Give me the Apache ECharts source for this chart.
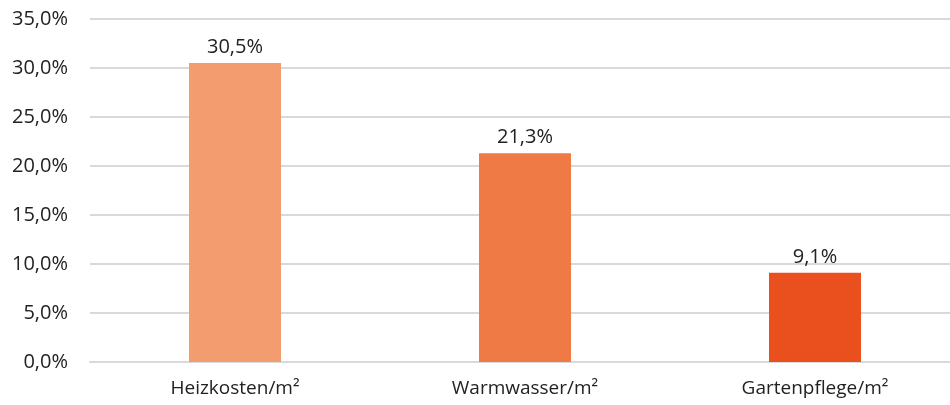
<!DOCTYPE html>
<html><head><meta charset="utf-8">
<script src="https://cdn.jsdelivr.net/npm/echarts@6/dist/echarts.min.js"></script>
<style>html,body{margin:0;padding:0;background:#fff;overflow:hidden}#c{width:960px;height:405px}</style>
</head><body><div id="c"></div>
<script>
const categories = ['Heizkosten/m²', 'Warmwasser/m²', 'Gartenpflege/m²'];
const values = [30.5, 21.3, 9.1];
const barColors = ['#F39C6F', '#F07A45', '#EA501E'];
const yTicks = [0, 5, 10, 15, 20, 25, 30, 35];
const fmt = v => v.toFixed(1).replace('.', ',') + '%';
const chart = echarts.init(document.getElementById('c'));
chart.setOption({
  animation: false,
  grid: { left: 90, right: 0, top: 19, bottom: 43 },
  xAxis: {
    type: 'category', data: categories,
    axisLine: { show: true, lineStyle: { color: '#d9d9d9', width: 2 } },
    axisTick: { show: false },
    axisLabel: { color: '#222', fontSize: 19, fontFamily: 'Open Sans', margin: 17 }
  },
  yAxis: {
    type: 'value', min: yTicks[0], max: yTicks[yTicks.length - 1], interval: 5,
    axisLine: { show: false }, axisTick: { show: false },
    splitLine: { lineStyle: { color: '#d9d9d9', width: 2 } },
    axisLabel: { color: '#222', fontSize: 20, fontFamily: 'Open Sans', margin: 22, formatter: v => fmt(v) }
  },
  series: [{
    type: 'bar', barWidth: 92,
    data: values.map((v, i) => ({ value: v, itemStyle: { color: barColors[i] } })),
    label: { show: true, position: 'top', distance: 6, color: '#222', fontSize: 20, fontFamily: 'Open Sans', formatter: p => fmt(p.value) }
  }]
});
</script></body></html>
